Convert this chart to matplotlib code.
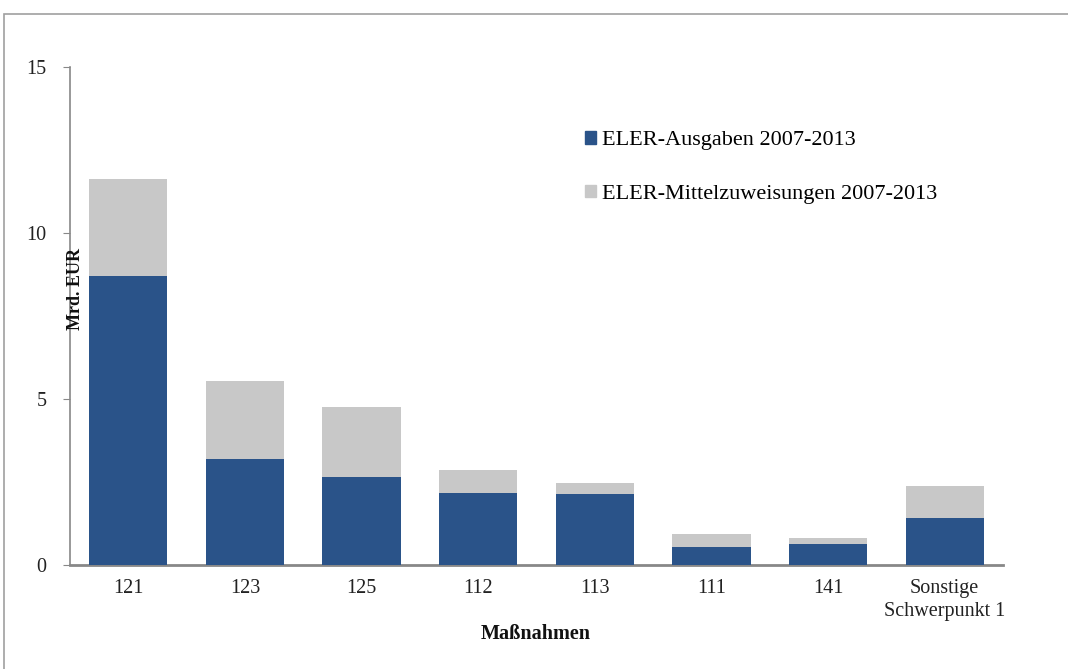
import matplotlib.pyplot as plt
from matplotlib.patches import Rectangle, Patch

# Data (Mrd. EUR)
categories = ['121', '123', '125', '112', '113', '111', '141', 'Sonstige\nSchwerpunkt 1']
zuweisungen = [11.63, 5.55, 4.76, 2.86, 2.48, 0.94, 0.80, 2.38]
ausgaben = [8.70, 3.19, 2.65, 2.17, 2.13, 0.55, 0.62, 1.42]

blue = '#2A5389'
grey = '#C8C8C8'

plt.rcParams['font.family'] = ['Liberation Serif', 'DejaVu Serif']

fig = plt.figure(figsize=(10.68, 6.69), dpi=100)
ax = fig.add_axes([70/1068, 1 - 565/669, 933/1068, 498/669])

# outer frame
fig.patches.append(Rectangle((4/1068, -0.1), 1.2, 1 - 14/669 + 0.1, transform=fig.transFigure,
                             fill=False, edgecolor='#A0A0A0', linewidth=1.2))

x = range(len(categories))
ax.bar(x, zuweisungen, width=0.67, color=grey, zorder=2)
ax.bar(x, ausgaben, width=0.67, color=blue, zorder=3)

ax.set_xlim(-0.5, 7.5)
ax.set_ylim(0, 15)
ax.set_yticks([0, 5, 10, 15])
ax.set_xticks(list(x))
ax.set_xticklabels(categories, fontsize=14.5, color='#222222', linespacing=1.3)
ax.tick_params(axis='x', length=0, pad=10)
ax.tick_params(axis='y', length=5, color='#888888', labelsize=14.5, labelcolor='#222222', pad=12)

for s in ['top', 'right']:
    ax.spines[s].set_visible(False)
ax.spines['left'].set_color('#888888')
ax.spines['bottom'].set_color('#888888')
ax.spines['left'].set_linewidth(1.2)
ax.spines['bottom'].set_linewidth(2)

fig.text(76/1068, 1 - 289/669, 'Mrd. EUR', rotation=90, fontsize=13, fontweight='bold',
         ha='center', va='center', color='#111111')
fig.text(536/1068, 1 - 634/669, 'Maßnahmen', fontsize=14.5, fontweight='bold',
         ha='center', va='center', color='#111111')

handles = [Patch(color=blue), Patch(color=grey)]
labels = ['ELER-Ausgaben 2007-2013', 'ELER-Mittelzuweisungen 2007-2013']
fig.legend(handles, labels, loc='upper left', bbox_to_anchor=(576/1068, 1 - 122/669),
           frameon=False, fontsize=16, handlelength=0.5, handleheight=0.5,
           handletextpad=0.25, labelspacing=1.55, borderaxespad=0)

fig.savefig('out.png', dpi=100)
